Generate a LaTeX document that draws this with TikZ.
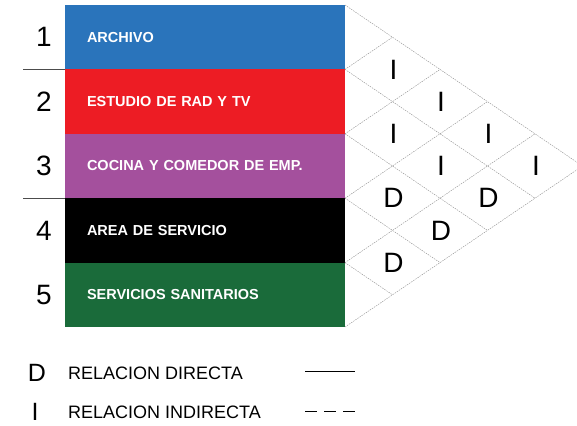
\documentclass[tikz,border=0pt]{standalone}
\usepackage{fontspec}
\setmainfont{Liberation Sans}
\definecolor{archivoblue}{HTML}{2A74BB}
\definecolor{estudiored}{HTML}{ED1C24}
\definecolor{cocinapurple}{HTML}{A4509D}
\definecolor{sanitgreen}{HTML}{1A6B3A}
\tikzset{
  bar/.style={rectangle, minimum height=64.4bp, text width=236bp, inner xsep=22bp, align=left, text=white, font=\fontsize{14.5bp}{17bp}\selectfont\bfseries},
  num/.style={font=\fontsize{28bp}{30bp}\selectfont, inner sep=0pt},
  rel/.style={font=\fontsize{28bp}{30bp}\selectfont, inner sep=0pt},
  diagline/.style={black!45, line width=0.4bp, dash pattern=on 1.5bp off 1bp},
  sepline/.style={black!70, line width=0.8bp},
  legtext/.style={font=\fontsize{18bp}{20bp}\selectfont, anchor=west, inner sep=0pt}
}
\begin{document}
\begin{tikzpicture}[x=1bp, y=-1bp]
            \useasboundingbox (0,0) rectangle (577,425);

            \node[bar, fill=archivoblue] (r1) at (205,37.2) {ARCHIVO};
            \node[bar, fill=estudiored] (r2) at (205,101.6) {ESTUDIO DE RAD Y TV};
            \node[bar, fill=cocinapurple] (r3) at (205,166) {COCINA Y COMEDOR DE EMP.};
            \node[bar, fill=black] (r4) at (205,230.4) {AREA DE SERVICIO};
            \node[bar, fill=sanitgreen] (r5) at (205,294.8) {SERVICIOS SANITARIOS};

            \node[num] (n1) at (44,37.2) {1};
            \node[num] (n2) at (44,101.6) {2};
            \node[num] (n3) at (44,166) {3};
            \node[num] (n4) at (44,230.4) {4};
            \node[num] (n5) at (44,294.8) {5};

            \draw[sepline] (r1.south west) -- ++(-42,0);
            \draw[sepline] (r3.south west) -- ++(-42,0);

            \draw[diagline] (345,5) -- (582.5,166);
            \draw[diagline] (345,69.4) -- (535,198.2);
            \draw[diagline] (345,133.8) -- (487.5,230.4);
            \draw[diagline] (345,198.2) -- (440,262.6);
            \draw[diagline] (345,262.6) -- (392.5,294.8);
            \draw[diagline] (345,69.4) -- (392.5,37.2);
            \draw[diagline] (345,133.8) -- (440,69.4);
            \draw[diagline] (345,198.2) -- (487.5,101.6);
            \draw[diagline] (345,262.6) -- (535,133.8);
            \draw[diagline] (345,327) -- (582.5,166);

            \node[rel] (c12) at (393.5,69.4) {I};
            \node[rel] (c13) at (441,101.6) {I};
            \node[rel] (c23) at (393.5,133.8) {I};
            \node[rel] (c14) at (488.5,133.8) {I};
            \node[rel] (c24) at (441,166) {I};
            \node[rel] (c15) at (536,166) {I};
            \node[rel] (c34) at (393.5,198.2) {D};
            \node[rel] (c25) at (488.5,198.2) {D};
            \node[rel] (c35) at (441,230.4) {D};
            \node[rel] (c45) at (393.5,262.6) {D};

            \node[rel, font=\fontsize{25bp}{27bp}\selectfont] (legD) at (37,373) {D};
            \node[rel, font=\fontsize{25bp}{27bp}\selectfont] (legI) at (35,412) {I};
            \node[legtext] (textD) at (68,373) {RELACION DIRECTA};
            \node[legtext] (textI) at (68,412) {RELACION INDIRECTA};

            \coordinate (solidA) at (305,371);
            \coordinate (solidB) at (355,371);
            \coordinate (dashA) at (305,411);
            \coordinate (dashB) at (355,411);
            \draw[black, line width=0.8bp] (solidA) -- (solidB);
            \draw[black, line width=0.8bp, dash pattern=on 12bp off 7bp] (dashA) -- (dashB);
        \end{tikzpicture}
\end{document}
